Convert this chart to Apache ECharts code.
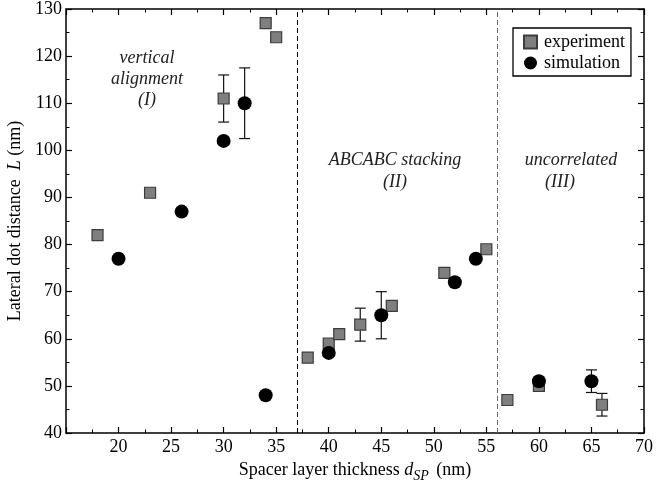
<!DOCTYPE html>
<html>
<head>
<meta charset="utf-8">
<script src="https://cdn.jsdelivr.net/npm/echarts@6/dist/echarts.min.js"></script>
<style>
  html, body { margin: 0; padding: 0; background: #fff; overflow: hidden; }
  #chart { width: 667px; height: 485px; }
</style>
</head>
<body>
<div id="chart"></div>
<script>
// Lateral dot distance versus spacer layer thickness
const expX = [18, 23, 30, 34, 35, 38, 40, 41, 43, 46, 51, 55, 57, 60, 66];
const expY = [82, 91, 111, 127, 124, 56, 59, 61, 63, 67, 74, 79, 47, 50, 46];

const simX = [20, 26, 30, 32, 34, 40, 45, 52, 54, 60, 65];
const simY = [77, 87, 102, 110, 48, 57, 65, 72, 77, 51, 51];

// Error bars: position, centre value and half-width
const errX = [30, 43, 66, 32, 45, 65];
const errY = [111, 63, 46, 110, 65, 51];
const errHalf = [5, 3.5, 2.4, 7.5, 5, 2.4];

// Regime boundaries (dashed)
const boundaries = [37, 56];

const FONT = '"Liberation Serif", "DejaVu Serif", serif';
const FS = 18;

const expData = expX.map((x, i) => [x, expY[i]]);
const simData = simX.map((x, i) => [x, simY[i]]);
const errData = errX.map((x, i) => [x, errY[i] - errHalf[i], errY[i] + errHalf[i]]);

const chart = echarts.init(document.getElementById('chart'), null, { renderer: 'canvas' });

const tickCommon = {
  axisLine: { show: true, onZero: false, lineStyle: { color: '#000', width: 1.5 } },
  axisTick: { show: true, inside: true, length: 6, lineStyle: { color: '#000', width: 1.2 } },
  minorTick: { show: true, splitNumber: 2, length: 3.5, lineStyle: { color: '#000', width: 1 } },
  splitLine: { show: false },
  minorSplitLine: { show: false }
};

function note(text, x, y) {
  return {
    type: 'text', x: x, y: y, silent: true,
    style: { text: text, font: 'italic ' + FS + 'px ' + FONT, fill: '#222', align: 'center', verticalAlign: 'middle' }
  };
}

const option = {
  animation: false,
  backgroundColor: '#fff',
  grid: { left: 66, right: 23, top: 9, bottom: 52, containLabel: false, outerBoundsMode: 'none' },
  xAxis: [
    Object.assign({
      type: 'value', min: 15, max: 70, interval: 5, position: 'bottom',
      axisLabel: {
        show: true, color: '#000', fontFamily: FONT, fontSize: FS, margin: 5,
        formatter: v => (v === 15 ? '' : String(v))
      },
      name: 'Spacer layer thickness {i|d}{sub|SP} (nm)',
      nameLocation: 'middle', nameGap: 22,
      nameTextStyle: {
        color: '#000', fontFamily: FONT, fontSize: FS,
        rich: {
          i: { fontFamily: FONT, fontSize: FS, fontStyle: 'italic', color: '#000' },
          sub: { fontFamily: FONT, fontSize: 14, fontStyle: 'italic', color: '#000', padding: [13, 3, 0, 0] }
        }
      }
    }, tickCommon),
    Object.assign({
      type: 'value', min: 15, max: 70, interval: 5, position: 'top',
      axisLabel: { show: false }
    }, tickCommon)
  ],
  yAxis: [
    Object.assign({
      type: 'value', min: 40, max: 130, interval: 10, position: 'left',
      axisLabel: { show: true, color: '#000', fontFamily: FONT, fontSize: FS, margin: 4 },
      name: 'Lateral dot distance  {i|L} (nm)',
      nameLocation: 'middle', nameGap: 41, nameRotate: 90,
      nameTextStyle: {
        color: '#000', fontFamily: FONT, fontSize: FS,
        rich: { i: { fontFamily: FONT, fontSize: FS, fontStyle: 'italic', color: '#000' } }
      }
    }, tickCommon),
    Object.assign({
      type: 'value', min: 40, max: 130, interval: 10, position: 'right',
      axisLabel: { show: false }
    }, tickCommon)
  ],
  legend: {
    orient: 'vertical',
    left: 513, top: 28,
    padding: [5, 6, 4, 10],
    itemGap: 3,
    itemWidth: 13, itemHeight: 13,
    borderColor: '#000', borderWidth: 1.3,
    backgroundColor: '#fff',
    textStyle: { color: '#000', fontFamily: FONT, fontSize: FS, padding: [0, 0, 0, 2] },
    data: ['experiment', 'simulation']
  },
  graphic: [
    note('vertical', 147, 58),
    note('alignment', 147, 79),
    note('(I)', 147, 100),
    note('ABCABC stacking', 395, 160),
    note('(II)', 395, 182),
    note('uncorrelated', 571, 160),
    note('(III)', 560, 182)
  ],
  series: [
    {
      name: 'errorbars',
      type: 'custom',
      xAxisIndex: 0, yAxisIndex: 0,
      z: 1,
      data: errData,
      renderItem: function (params, api) {
        const x = api.value(0);
        const lo = api.coord([x, api.value(1)]);
        const hi = api.coord([x, api.value(2)]);
        const cap = 5.5;
        const st = { stroke: '#111', lineWidth: 1.2 };
        return {
          type: 'group',
          children: [
            { type: 'line', shape: { x1: lo[0], y1: lo[1], x2: hi[0], y2: hi[1] }, style: st },
            { type: 'line', shape: { x1: lo[0] - cap, y1: lo[1], x2: lo[0] + cap, y2: lo[1] }, style: st },
            { type: 'line', shape: { x1: hi[0] - cap, y1: hi[1], x2: hi[0] + cap, y2: hi[1] }, style: st }
          ]
        };
      },
      silent: true
    },
    {
      name: 'boundaries',
      type: 'line',
      data: [],
      markLine: {
        silent: true,
        symbol: ['none', 'none'],
        label: { show: false },
        lineStyle: { color: '#000', type: [5, 3], width: 1 },
        data: [
          { xAxis: boundaries[0] },
          { xAxis: boundaries[1], lineStyle: { color: '#666' } }
        ]
      }
    },
    {
      name: 'experiment',
      type: 'scatter',
      z: 3,
      symbol: 'rect',
      symbolSize: 11,
      itemStyle: { color: '#7f7f7f', borderColor: '#3c3c3c', borderWidth: 1.2, opacity: 1 },
      data: expData
    },
    {
      name: 'simulation',
      type: 'scatter',
      z: 4,
      symbol: 'circle',
      symbolSize: 14,
      itemStyle: { color: '#000', opacity: 1 },
      data: simData
    }
  ]
};

chart.setOption(option);
</script>
</body>
</html>
